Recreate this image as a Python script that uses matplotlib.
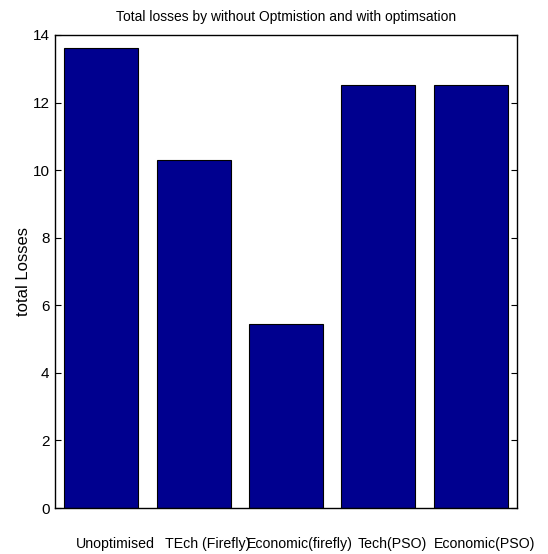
import matplotlib
matplotlib.use("Agg")
import matplotlib.pyplot as plt
import matplotlib.transforms as mtransforms

categories = ["Unoptimised", "TEch (Firefly)", "Economic(firefly)", "Tech(PSO)", "Economic(PSO)"]
losses = [13.62, 10.29, 5.44, 12.53, 12.53]
yticks = [0, 2, 4, 6, 8, 10, 12, 14]

plt.rcParams['font.family'] = ['Liberation Sans', 'DejaVu Sans']

fig = plt.figure(figsize=(5.48, 5.54), dpi=100)
ax = fig.add_axes([55/548, 1-508/554, (517-55)/548, (508-35)/554])

x = list(range(1, len(categories)+1))
ax.bar(x, losses, width=0.8, color='#00008F', edgecolor='black', linewidth=0.8)
ax.set_xlim(0.5, 5.5)
ax.set_ylim(0, 14)
ax.set_yticks(yticks)
ax.set_yticklabels([str(v) for v in yticks], fontsize=11)
ax.set_xticks(x)
ax.set_xticklabels(categories, fontsize=10.2)
ax.tick_params(axis='y', direction='in', length=4, width=0.8, right=True, pad=4)
ax.tick_params(axis='x', direction='in', length=0, pad=21)
offset = mtransforms.ScaledTranslation(14/100, 0, fig.dpi_scale_trans)
for lbl in ax.get_xticklabels():
    lbl.set_transform(lbl.get_transform() + offset)
for s in ax.spines.values():
    s.set_linewidth(1.0)
ax.set_ylabel("total Losses", fontsize=12, labelpad=1)
ax.set_title("Total losses by without Optmistion and with optimsation", fontsize=10, pad=10)

fig.savefig("out.png", dpi=100)
